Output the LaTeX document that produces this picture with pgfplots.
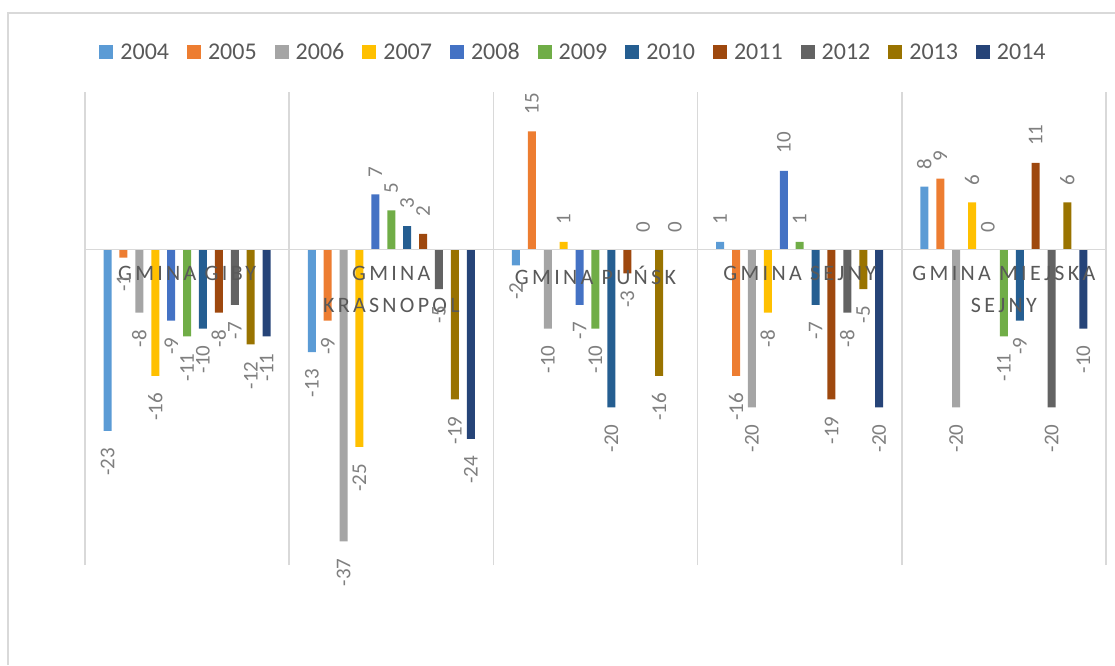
\documentclass[border=0pt]{standalone}
\usepackage{fontspec}
\setmainfont{Carlito}
\newfontfamily\catfont[LetterSpace=15]{Carlito}
\usepackage{graphicx}
\usepackage{pgfplots}
\usepackage{pgfplotstable}
\pgfplotsset{compat=1.18}

\definecolor{c2004}{HTML}{5B9BD5}
\definecolor{c2005}{HTML}{ED7D31}
\definecolor{c2006}{HTML}{A5A5A5}
\definecolor{c2007}{HTML}{FFC000}
\definecolor{c2008}{HTML}{4472C4}
\definecolor{c2009}{HTML}{70AD47}
\definecolor{c2010}{HTML}{255E91}
\definecolor{c2011}{HTML}{9E480E}
\definecolor{c2012}{HTML}{636363}
\definecolor{c2013}{HTML}{997300}
\definecolor{c2014}{HTML}{264478}
\definecolor{txtgray}{HTML}{595959}
\definecolor{labgray}{HTML}{7F7F7F}
\definecolor{linegray}{HTML}{D9D9D9}

% rows: gminy, columns: years
\pgfplotstableread{
x y2004 y2005 y2006 y2007 y2008 y2009 y2010 y2011 y2012 y2013 y2014
0 -23  -1  -8 -16  -9 -11 -10  -8  -7 -12 -11
1 -13  -9 -37 -25   7   5   3   2  -5 -19 -24
2  -2  15 -10   1  -7 -10 -20  -3   0 -16   0
3   1 -16 -20  -8  10   1  -7 -19  -8  -5 -20
4   8   9 -20   6   0 -11  -9  11 -20   6 -10
}\saldo

\begin{document}
\begin{tikzpicture}
\path[use as bounding box] (0pt,0pt) rectangle (1115pt,665pt);
\draw[linegray, line width=1.5pt] (8pt,0pt) -- (8pt,652pt) -- (1115pt,652pt);
\begin{axis}[
  at={(85pt,100pt)}, anchor=south west,
  scale only axis, width=1021pt, height=473pt,
  ybar=7.9pt, bar width=8pt,
  xmin=-0.5, xmax=4.5, ymin=-40, ymax=20,
  enlargelimits=false, clip=false, axis on top,
  axis x line*=middle, axis y line=none, ytick=\empty,
  axis line style={linegray, line width=1.5pt},
  xtick={0,...,4},
  xticklabels={{GMINA GIBY},{GMINA\\KRASNOPOL},{GMINA PUŃSK},{GMINA SEJNY},{GMINA MIEJSKA\\SEJNY}},
  xticklabel style={font=\catfont\fontsize{22}{32}\selectfont, text=txtgray, align=center, yshift=-13pt},
  major tick length=0pt, minor tick length=0pt,
  minor xtick={-0.5,0.5,...,4.5},
  xminorgrids, minor grid style={linegray, line width=1.5pt},
  /pgf/number format/assume math mode=true,
  nodes near coords={\rotatebox{90}{\pgfmathprintnumber{\pgfplotspointmeta}}},
  every node near coord/.append style={font=\fontsize{21}{21}\selectfont, text=labgray, inner xsep=0pt, inner ysep=17pt},
  legend columns=11,
  legend image code/.code={\fill[#1] (0pt,-7pt) rectangle (14pt,7pt);},
  legend style={at={(0.4785,1.0846)}, anchor=center, draw=none, fill=none,
    font=\fontsize{24}{24}\selectfont, text=txtgray,
    /tikz/every odd column/.append style={column sep=5pt},
    /tikz/every even column/.append style={column sep=16pt}},
]
\addplot[fill=c2004, draw=none] table[x=x, y=y2004] {\saldo};
\addplot[fill=c2005, draw=none] table[x=x, y=y2005] {\saldo};
\addplot[fill=c2006, draw=none] table[x=x, y=y2006] {\saldo};
\addplot[fill=c2007, draw=none] table[x=x, y=y2007] {\saldo};
\addplot[fill=c2008, draw=none] table[x=x, y=y2008] {\saldo};
\addplot[fill=c2009, draw=none] table[x=x, y=y2009] {\saldo};
\addplot[fill=c2010, draw=none] table[x=x, y=y2010] {\saldo};
\addplot[fill=c2011, draw=none] table[x=x, y=y2011] {\saldo};
\addplot[fill=c2012, draw=none] table[x=x, y=y2012] {\saldo};
\addplot[fill=c2013, draw=none] table[x=x, y=y2013] {\saldo};
\addplot[fill=c2014, draw=none] table[x=x, y=y2014] {\saldo};
\legend{2004,2005,2006,2007,2008,2009,2010,2011,2012,2013,2014}
\end{axis}
\end{tikzpicture}
\end{document}
